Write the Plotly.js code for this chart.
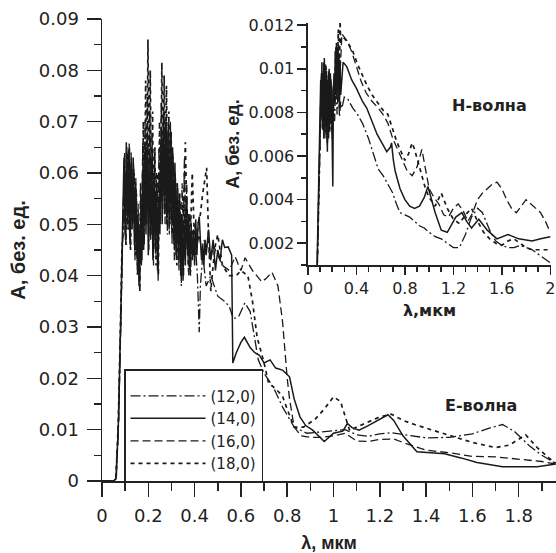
<!DOCTYPE html>
<html>
<head>
<meta charset="utf-8">
<script src="https://cdn.plot.ly/plotly-3.0.1.min.js"></script>
<style>html,body{margin:0;padding:0;background:#fff;}#chart{width:556px;height:553px;}</style>
</head>
<body>
<div id="chart"></div>
<script>
// ---------- Series names ----------
var seriesNames = ['(12,0)', '(14,0)', '(16,0)', '(18,0)'];

// ---------- Main plot (E-wave) ----------
var x12 = [0, 0.05, 0.062, 0.072, 0.082, 0.088,
  0.0925, 0.0975, 0.1025, 0.1075, 0.1125, 0.1175, 0.1225, 0.1275, 0.1325, 0.1375,
  0.1425, 0.1475, 0.1525, 0.1575, 0.1625, 0.1675, 0.1725, 0.1775, 0.1825, 0.1875,
  0.1925, 0.1975, 0.2025, 0.2075, 0.2125, 0.2175, 0.2225, 0.2275, 0.2325, 0.2375,
  0.2425, 0.2475, 0.2525, 0.2575, 0.2625, 0.2675, 0.2725, 0.2775, 0.2825, 0.2875,
  0.2925, 0.2975, 0.3025, 0.3075, 0.3125, 0.3175, 0.3225, 0.3275, 0.3325, 0.3375,
  0.3425, 0.3475, 0.3525, 0.3575, 0.3625, 0.3675, 0.3725, 0.3775, 0.3825, 0.3875,
  0.395, 0.405, 0.412, 0.42, 0.425, 0.435, 0.45, 0.47, 0.50, 0.53,
  0.55, 0.567, 0.59, 0.617, 0.64, 0.66, 0.675, 0.70, 0.74, 0.78,
  0.83, 0.885, 0.95, 1.00, 1.05, 1.10, 1.15, 1.20, 1.25, 1.30,
  1.40, 1.50, 1.60, 1.68, 1.73, 1.78, 1.85, 1.90, 1.96];
var y12 = [0, 0, 0.0005, 0.012, 0.032, 0.046,
  0.055, 0.064, 0.046, 0.065, 0.049, 0.066, 0.045, 0.063, 0.05, 0.061,
  0.043, 0.057, 0.04, 0.05, 0.037, 0.055, 0.043, 0.062, 0.046, 0.066,
  0.05, 0.065, 0.045, 0.068, 0.048, 0.064, 0.042, 0.061, 0.044, 0.058,
  0.039, 0.06, 0.05, 0.068, 0.053, 0.071, 0.05, 0.069, 0.048, 0.07,
  0.052, 0.066, 0.046, 0.063, 0.043, 0.059, 0.044, 0.057, 0.041, 0.054,
  0.038, 0.05, 0.04, 0.054, 0.045, 0.052, 0.042, 0.048, 0.04, 0.047,
  0.044, 0.045, 0.04, 0.029, 0.038, 0.044, 0.038, 0.040, 0.036, 0.035,
  0.034, 0.0316, 0.032, 0.0347, 0.033, 0.028, 0.0236, 0.021, 0.0183, 0.0144,
  0.0105, 0.0093, 0.0095, 0.0098, 0.0100, 0.0090, 0.0087, 0.0092, 0.0094, 0.0091,
  0.0084, 0.0085, 0.0092, 0.0104, 0.0110, 0.0097, 0.0067, 0.0050, 0.0034];

var x14 = [0, 0.05, 0.06, 0.07, 0.08, 0.085,
  0.09, 0.095, 0.10, 0.105, 0.11, 0.115, 0.12, 0.125, 0.13, 0.135,
  0.14, 0.145, 0.15, 0.155, 0.16, 0.165, 0.17, 0.175, 0.18, 0.185,
  0.19, 0.195, 0.20, 0.205, 0.21, 0.215, 0.22, 0.225, 0.23, 0.235,
  0.24, 0.245, 0.25, 0.255, 0.26, 0.265, 0.27, 0.275, 0.28, 0.285,
  0.29, 0.295, 0.30, 0.305, 0.31, 0.315, 0.32, 0.325, 0.33, 0.335,
  0.34, 0.345, 0.35, 0.355, 0.36, 0.365, 0.37, 0.375, 0.38, 0.385,
  0.39, 0.395, 0.40, 0.405, 0.41, 0.415, 0.42, 0.425, 0.43, 0.435,
  0.44, 0.445, 0.45, 0.46, 0.47, 0.48, 0.49, 0.50, 0.51, 0.52,
  0.53, 0.545, 0.56, 0.565, 0.58, 0.60, 0.615, 0.64, 0.66, 0.68,
  0.70, 0.726, 0.75, 0.78, 0.81, 0.83, 0.855, 0.88, 0.91, 0.96,
  0.98, 1.00, 1.04, 1.06, 1.08, 1.11, 1.15, 1.20, 1.235, 1.26,
  1.30, 1.36, 1.48, 1.55, 1.62, 1.73, 1.88, 1.96];
var y14 = [0, 0, 0.0005, 0.01, 0.03, 0.045,
  0.052, 0.063, 0.048, 0.066, 0.050, 0.064, 0.047, 0.062, 0.049, 0.063,
  0.046, 0.058, 0.044, 0.052, 0.038, 0.050, 0.042, 0.060, 0.045, 0.064,
  0.048, 0.066, 0.044, 0.063, 0.047, 0.062, 0.043, 0.060, 0.046, 0.057,
  0.041, 0.055, 0.048, 0.066, 0.050, 0.069, 0.052, 0.070, 0.050, 0.068,
  0.049, 0.070, 0.051, 0.065, 0.047, 0.062, 0.044, 0.058, 0.043, 0.056,
  0.040, 0.052, 0.039, 0.050, 0.042, 0.055, 0.044, 0.052, 0.041, 0.050,
  0.043, 0.049, 0.042, 0.051, 0.044, 0.050, 0.0515, 0.047, 0.043, 0.046,
  0.042, 0.047, 0.044, 0.049, 0.043, 0.047, 0.041, 0.045, 0.043, 0.047,
  0.0455, 0.0456, 0.044, 0.023, 0.025, 0.027, 0.028, 0.026, 0.025, 0.0245,
  0.023, 0.0236, 0.022, 0.0216, 0.0203, 0.016, 0.0125, 0.0108, 0.0099, 0.0077,
  0.0085, 0.0093, 0.0097, 0.0112, 0.0104, 0.0099, 0.0108, 0.0120, 0.0129, 0.0118,
  0.0088, 0.0057, 0.0053, 0.0045, 0.0036, 0.0028, 0.0028, 0.0033];

var x16 = [0, 0.05, 0.06, 0.07, 0.08, 0.087,
  0.091, 0.096, 0.101, 0.106, 0.111, 0.116, 0.121, 0.126, 0.131, 0.136,
  0.141, 0.146, 0.151, 0.156, 0.161, 0.166, 0.171, 0.176, 0.181, 0.186,
  0.191, 0.196, 0.201, 0.206, 0.211, 0.216, 0.221, 0.226, 0.231, 0.236,
  0.241, 0.246, 0.251, 0.256, 0.261, 0.266, 0.271, 0.276, 0.281, 0.286,
  0.291, 0.296, 0.301, 0.306, 0.311, 0.316, 0.321, 0.326, 0.331, 0.336,
  0.341, 0.346, 0.351, 0.356, 0.361, 0.366, 0.372, 0.38, 0.39, 0.40,
  0.41, 0.42, 0.43, 0.44, 0.45, 0.46, 0.47, 0.48, 0.50, 0.52,
  0.55, 0.575, 0.60, 0.618, 0.65, 0.69, 0.71, 0.734, 0.76, 0.78,
  0.80, 0.81, 0.83, 0.86, 0.90, 0.95, 1.00, 1.05, 1.10, 1.15,
  1.20, 1.26, 1.30, 1.40, 1.50, 1.60, 1.70, 1.80, 1.90, 1.96];
var y16 = [0, 0, 0.0004, 0.009, 0.028, 0.044,
  0.05, 0.062, 0.047, 0.064, 0.051, 0.065, 0.046, 0.064, 0.05, 0.062,
  0.045, 0.059, 0.043, 0.054, 0.039, 0.058, 0.047, 0.066, 0.05, 0.07,
  0.052, 0.075, 0.048, 0.072, 0.05, 0.068, 0.044, 0.064, 0.045, 0.06,
  0.042, 0.065, 0.053, 0.074, 0.055, 0.072, 0.054, 0.071, 0.05, 0.069,
  0.048, 0.066, 0.049, 0.064, 0.046, 0.06, 0.043, 0.058, 0.045, 0.056,
  0.042, 0.058, 0.048, 0.063, 0.05, 0.058, 0.046, 0.052, 0.048, 0.05,
  0.046, 0.048, 0.045, 0.047, 0.046, 0.045, 0.043, 0.046, 0.044, 0.042,
  0.041, 0.0437, 0.041, 0.0435, 0.041, 0.0388, 0.0395, 0.0407, 0.038, 0.031,
  0.020, 0.016, 0.0105, 0.0088, 0.0085, 0.0085, 0.0088, 0.0093, 0.0078, 0.0077,
  0.0081, 0.0082, 0.0075, 0.006, 0.0055, 0.0048, 0.0047, 0.0043, 0.0038, 0.0033];

var x18 = [0, 0.05, 0.06, 0.07, 0.08, 0.086,
  0.0935, 0.0985, 0.1035, 0.1085, 0.1135, 0.1185, 0.1235, 0.1285, 0.1335, 0.1385,
  0.1435, 0.1485, 0.1535, 0.1585, 0.1635, 0.1685, 0.1735, 0.1785, 0.1835, 0.1885,
  0.1935, 0.1985, 0.2035, 0.2085, 0.2135, 0.2185, 0.2235, 0.2285, 0.2335, 0.2385,
  0.2435, 0.2485, 0.2535, 0.2585, 0.2635, 0.2685, 0.2735, 0.2785, 0.2835, 0.2885,
  0.2935, 0.2985, 0.3035, 0.3085, 0.3135, 0.3185, 0.3235, 0.3285, 0.3335, 0.3385,
  0.345, 0.352, 0.36, 0.367, 0.375, 0.382, 0.39, 0.397, 0.405, 0.415,
  0.425, 0.435, 0.445, 0.452, 0.46, 0.47, 0.48, 0.49, 0.50, 0.52,
  0.55, 0.58, 0.60, 0.63, 0.65, 0.67, 0.70, 0.72, 0.75, 0.78,
  0.80, 0.83, 0.87, 0.92, 0.96, 1.00, 1.03, 1.05, 1.07, 1.10,
  1.15, 1.20, 1.25, 1.30, 1.35, 1.42, 1.50, 1.60, 1.70, 1.76,
  1.83, 1.88, 1.93, 1.96];
var y18 = [0, 0, 0.0004, 0.011, 0.031, 0.045,
  0.05, 0.06, 0.046, 0.064, 0.049, 0.065, 0.045, 0.061, 0.05, 0.06,
  0.044, 0.056, 0.042, 0.05, 0.037, 0.055, 0.045, 0.07, 0.05, 0.078,
  0.055, 0.086, 0.06, 0.08, 0.052, 0.072, 0.045, 0.065, 0.042, 0.06,
  0.04, 0.07, 0.055, 0.0815, 0.06, 0.079, 0.057, 0.077, 0.052, 0.072,
  0.05, 0.068, 0.048, 0.062, 0.045, 0.058, 0.042, 0.055, 0.044, 0.052,
  0.04, 0.055, 0.066, 0.05, 0.04, 0.048, 0.06, 0.05, 0.044, 0.05,
  0.052, 0.056, 0.059, 0.061, 0.048, 0.037, 0.042, 0.046, 0.048, 0.042,
  0.040, 0.040, 0.041, 0.040, 0.035, 0.028, 0.023, 0.019, 0.018, 0.0165,
  0.014, 0.0105, 0.0105, 0.012, 0.014, 0.0164, 0.0155, 0.0125, 0.0098, 0.0105,
  0.0115, 0.0125, 0.013, 0.0118, 0.011, 0.0100, 0.0088, 0.0075, 0.0065, 0.0070,
  0.009, 0.0065, 0.0045, 0.0035];

// ---------- Inset (H-wave) ----------
var xi12 = [0, 0.06, 0.078, 0.092, 0.1,
  0.11, 0.12, 0.13, 0.14, 0.15, 0.16, 0.17, 0.18, 0.19, 0.2,
  0.21, 0.22, 0.23, 0.24, 0.25, 0.26, 0.27, 0.28, 0.3, 0.33,
  0.37, 0.41, 0.45, 0.5, 0.55, 0.58, 0.62, 0.67, 0.7, 0.73,
  0.76, 0.8, 0.84, 0.88, 0.92, 0.96, 1.0, 1.05, 1.1, 1.15,
  1.2, 1.25, 1.3, 1.35, 1.4, 1.44, 1.5, 1.55, 1.6, 1.65,
  1.7, 1.75, 1.8, 1.85, 1.9, 1.95, 2.0];
var yi12 = [0, 0, 0.001, 0.0045, 0.007,
  0.0092, 0.0075, 0.0098, 0.0068, 0.0094, 0.0065, 0.0092, 0.0071, 0.0088, 0.0068,
  0.0085, 0.0076, 0.0095, 0.0079, 0.0092, 0.0078, 0.0085, 0.0082, 0.0087, 0.0086,
  0.0082, 0.0079, 0.0075, 0.0068, 0.0059, 0.0054, 0.0051, 0.0046, 0.0043, 0.0038,
  0.0034, 0.0033, 0.0032, 0.003, 0.0028, 0.0027, 0.0025, 0.0023, 0.0022, 0.002,
  0.0018, 0.0018, 0.0024, 0.0032, 0.0036, 0.0034, 0.0026, 0.0021, 0.0019, 0.0018,
  0.0018, 0.0019, 0.0018, 0.0017, 0.0015, 0.0013, 0.0011];

var xi14 = [0, 0.06, 0.075, 0.09, 0.1,
  0.105, 0.11, 0.115, 0.12, 0.125, 0.13, 0.135, 0.14, 0.145, 0.15,
  0.155, 0.16, 0.165, 0.17, 0.175, 0.18, 0.185, 0.19, 0.195, 0.2,
  0.205, 0.21, 0.215, 0.22, 0.225, 0.23, 0.235, 0.24, 0.245, 0.25,
  0.255, 0.26, 0.265, 0.27, 0.28, 0.29, 0.32, 0.36, 0.40, 0.45,
  0.485, 0.52, 0.57, 0.61, 0.65, 0.68, 0.69, 0.705, 0.72, 0.76,
  0.80, 0.84, 0.88, 0.92, 0.96, 0.99, 1.02, 1.05, 1.10, 1.15,
  1.22, 1.27, 1.31, 1.35, 1.41, 1.48, 1.56, 1.65, 1.74, 1.85,
  1.92, 2.0];
var yi14 = [0, 0, 0.001, 0.0048, 0.0075,
  0.0095, 0.0078, 0.0103, 0.0072, 0.0098, 0.0068, 0.0105, 0.0075, 0.0102, 0.007,
  0.0097, 0.0062, 0.0095, 0.0068, 0.01, 0.0075, 0.0098, 0.0078, 0.0092, 0.0065,
  0.0046, 0.009, 0.0098, 0.0085, 0.0108, 0.0088, 0.0112, 0.0092, 0.011, 0.0085,
  0.0106, 0.0082, 0.0104, 0.0088, 0.0098, 0.0103, 0.0101, 0.0095, 0.0091, 0.0085,
  0.0082, 0.0077, 0.007, 0.0066, 0.0062, 0.0064, 0.0066, 0.0058, 0.0053, 0.0045,
  0.004, 0.0037, 0.0036, 0.0037, 0.0041, 0.0046, 0.004, 0.0034, 0.0026, 0.0025,
  0.0032, 0.0034, 0.003, 0.0027, 0.0031, 0.0026, 0.0022, 0.0024, 0.0022, 0.0021,
  0.0022, 0.0023];

var xi16 = [0, 0.06, 0.076, 0.09, 0.1,
  0.11, 0.12, 0.13, 0.14, 0.15, 0.16, 0.17, 0.18, 0.19, 0.2,
  0.21, 0.22, 0.23, 0.24, 0.25, 0.26, 0.27, 0.28, 0.32, 0.36,
  0.4, 0.44, 0.48, 0.53, 0.58, 0.62, 0.66, 0.7, 0.74, 0.78,
  0.82, 0.86, 0.9, 0.94, 0.97, 1.0, 1.04, 1.08, 1.12, 1.16,
  1.2, 1.24, 1.28, 1.32, 1.36, 1.4, 1.44, 1.48, 1.52, 1.56,
  1.6, 1.64, 1.68, 1.72, 1.76, 1.8, 1.84, 1.88, 1.92, 1.96,
  2.0];
var yi16 = [0, 0, 0.001, 0.0046, 0.0078,
  0.0098, 0.0076, 0.0101, 0.0072, 0.0099, 0.0068, 0.0097, 0.0075, 0.0096, 0.0072,
  0.0093, 0.0083, 0.0105, 0.0088, 0.0111, 0.0092, 0.0108, 0.0116, 0.0113, 0.0108,
  0.0101, 0.0094, 0.0089, 0.0085, 0.0082, 0.0079, 0.0075, 0.0068, 0.0063, 0.0058,
  0.0053, 0.0051, 0.0055, 0.0063, 0.0054, 0.0045, 0.0041, 0.0038, 0.0033, 0.0032,
  0.0036, 0.0038, 0.0035, 0.003, 0.0034, 0.004, 0.0043, 0.0045, 0.0047, 0.0048,
  0.0045, 0.004, 0.0036, 0.0034, 0.0037, 0.004, 0.0038, 0.0036, 0.0034, 0.003,
  0.0025];

var xi18 = [0, 0.06, 0.077, 0.091, 0.1,
  0.11, 0.12, 0.13, 0.14, 0.15, 0.16, 0.17, 0.18, 0.19, 0.2,
  0.21, 0.22, 0.23, 0.24, 0.25, 0.26, 0.265, 0.27, 0.3, 0.33,
  0.37, 0.41, 0.45, 0.49, 0.53, 0.57, 0.62, 0.66, 0.7, 0.73,
  0.76, 0.78, 0.8, 0.83, 0.86, 0.88, 0.91, 0.94, 0.97, 1.0,
  1.05, 1.1, 1.15, 1.2, 1.25, 1.3, 1.35, 1.4, 1.45, 1.5,
  1.55, 1.6, 1.65, 1.7, 1.75, 1.8, 1.85, 1.9, 1.95, 2.0];
var yi18 = [0, 0, 0.001, 0.0047, 0.0074,
  0.0096, 0.0073, 0.0103, 0.0071, 0.0101, 0.0066, 0.0099, 0.0072, 0.0094, 0.007,
  0.009, 0.0086, 0.011, 0.009, 0.0118, 0.0095, 0.0122, 0.0112, 0.0114, 0.0112,
  0.0108, 0.0102, 0.0097, 0.0092, 0.0088, 0.0085, 0.0081, 0.0079, 0.0072, 0.0067,
  0.0063, 0.006, 0.0058, 0.0061, 0.0066, 0.0063, 0.0057, 0.005, 0.0045, 0.0041,
  0.0037, 0.0043, 0.0036, 0.0031, 0.0029, 0.0033, 0.0036, 0.003, 0.0025, 0.0022,
  0.002, 0.0019, 0.0021, 0.0022, 0.002, 0.0018, 0.0017, 0.0017, 0.0017, 0.0017];

// ---------- Styles ----------
var INK = '#1a1a1a';
var dashes = ['10px,3px,2px,3px', 'solid', '8px,4px', '4px,4px'];
var widths = [1.3, 1.5, 1.3, 1.7];

var mainX = [x12, x14, x16, x18], mainY = [y12, y14, y16, y18];
var insX = [xi12, xi14, xi16, xi18], insY = [yi12, yi14, yi16, yi18];

var traces = [];
for (var i = 0; i < 4; i++) {
  traces.push({
    type: 'scatter', mode: 'lines', name: seriesNames[i],
    x: mainX[i], y: mainY[i], xaxis: 'x', yaxis: 'y',
    line: {color: INK, width: widths[i], dash: dashes[i]}
  });
}
for (var j = 0; j < 4; j++) {
  traces.push({
    type: 'scatter', mode: 'lines', name: seriesNames[j], showlegend: false,
    x: insX[j], y: insY[j], xaxis: 'x2', yaxis: 'y2',
    line: {color: INK, width: widths[j], dash: dashes[j]}
  });
}

var FONT = 'DejaVu Sans, Arial, sans-serif';
var TFONT = 'Liberation Sans, Arial, sans-serif';
var axisCommon = {
  showline: true, linecolor: '#222', linewidth: 1.5, showgrid: false, zeroline: false,
  ticks: 'outside', tickcolor: '#222', tickwidth: 1.5
};

var layout = {
  width: 556, height: 553,
  margin: {l: 102, r: 0, t: 19, b: 72, pad: 0},
  paper_bgcolor: '#fff', plot_bgcolor: 'rgba(0,0,0,0)',
  font: {family: FONT, color: '#222'},
  showlegend: true,
  legend: {
    x: 0.0485, y: 0.2424, xanchor: 'left', yanchor: 'top',
    bgcolor: '#fff', bordercolor: '#222', borderwidth: 1.5,
    font: {family: FONT, size: 15, color: '#222'},
    title: {text: ' ', font: {family: FONT, size: 7}},
    itemwidth: 75, tracegroupgap: 0
  },
  xaxis: Object.assign({}, axisCommon, {
    domain: [0, 1], anchor: 'y', range: [0, 1.961],
    tick0: 0, dtick: 0.2, ticklen: 14, ticklabelstandoff: 4,
    minor: {dtick: 0.1, ticklen: 8, tickwidth: 1.5, tickcolor: '#222', ticks: 'outside', showgrid: false},
    tickfont: {family: FONT, size: 18, color: '#222'},
    title: {text: 'λ, мкм', font: {family: TFONT, size: 18, weight: 'bold', color: '#222'}, standoff: 12}
  }),
  yaxis: Object.assign({}, axisCommon, {
    domain: [0, 1], anchor: 'x', range: [0, 0.09],
    tick0: 0, dtick: 0.01, ticklen: 14, ticklabelstandoff: 4,
    minor: {dtick: 0.005, ticklen: 7, tickwidth: 1.5, tickcolor: '#222', ticks: 'outside', showgrid: false},
    tickfont: {family: FONT, size: 18, color: '#222'},
    title: {text: 'А, без. ед.', font: {family: TFONT, size: 20, weight: 'bold', color: '#222'}, standoff: 8}
  }),
  xaxis2: Object.assign({}, axisCommon, {
    domain: [0.4537, 0.989], anchor: 'y2', range: [0, 2.006],
    tick0: 0, dtick: 0.4, ticklen: 8,
    minor: {dtick: 0.1, ticklen: 5, tickwidth: 1.5, tickcolor: '#222', ticks: 'outside', showgrid: false},
    tickfont: {family: FONT, size: 16, color: '#222'},
    title: {text: 'λ,мкм', font: {family: FONT, size: 16, weight: 'bold', color: '#222'}, standoff: 8}
  }),
  yaxis2: Object.assign({}, axisCommon, {
    domain: [0.4675, 0.9913], anchor: 'x2', range: [0.001, 0.0121],
    tick0: 0, dtick: 0.002, ticklen: 9,
    minor: {dtick: 0.001, ticklen: 5, tickwidth: 1.5, tickcolor: '#222', ticks: 'outside', showgrid: false},
    tickfont: {family: FONT, size: 16, color: '#222'},
    title: {text: 'А, без. ед.', font: {family: TFONT, size: 18, weight: 'bold', color: '#222'}, standoff: 4}
  }),
  annotations: [
    {xref: 'x', yref: 'y', x: 1.672, y: 0.0731, text: 'Н-волна', showarrow: false,
     font: {family: FONT, size: 16, weight: 'bold', color: '#222'}},
    {xref: 'x', yref: 'y', x: 1.637, y: 0.0148, text: 'Е-волна', showarrow: false,
     font: {family: FONT, size: 16, weight: 'bold', color: '#222'}}
  ]
};

Plotly.newPlot('chart', traces, layout, {displayModeBar: false, staticPlot: true});
</script>
</body>
</html>
